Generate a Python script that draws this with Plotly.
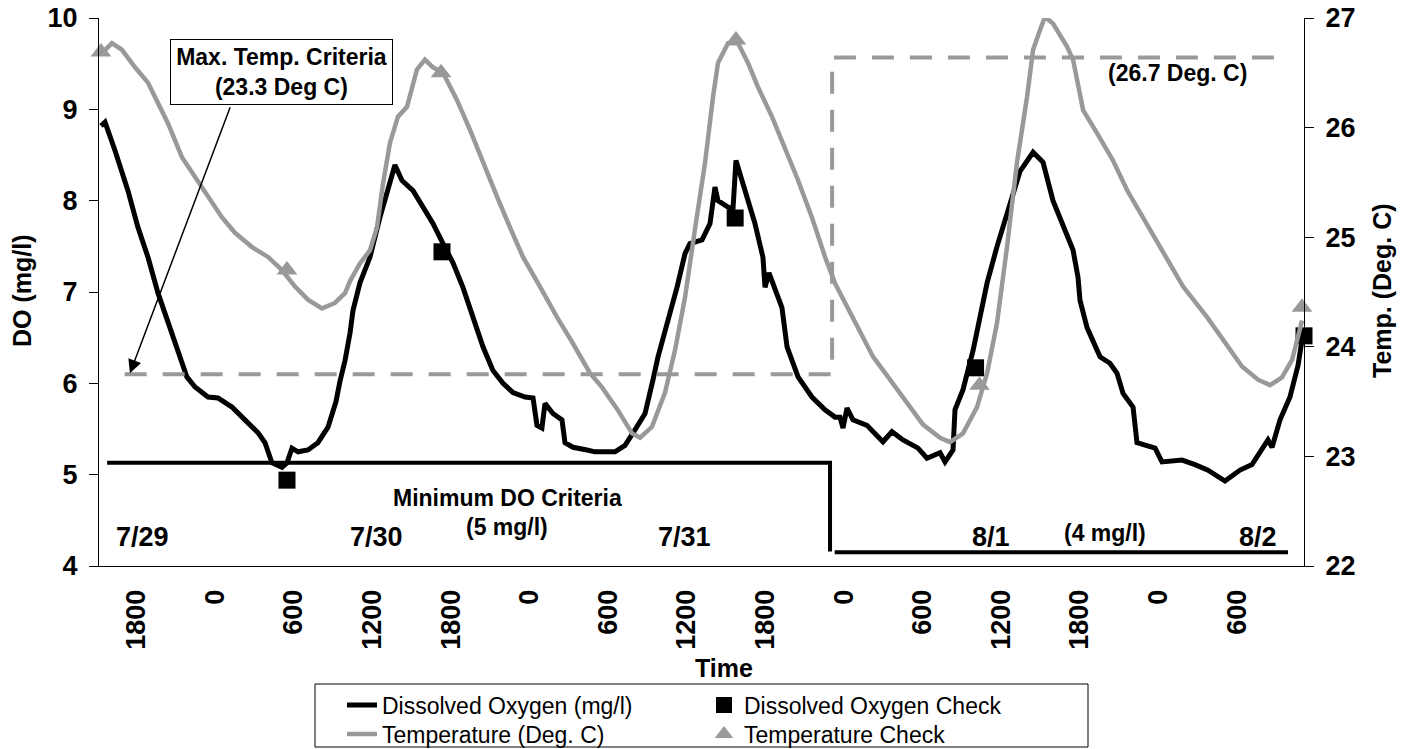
import plotly.graph_objects as go

# ---------------- data (hours from 7/30 00:00) ----------------
do_hours = [-8.71, -8.40, -7.64, -6.65, -5.89, -5.12, -4.36, -3.60, -2.83, -2.15, -1.53, -0.54,
            0.22, 1.29, 2.28, 3.27, 3.81, 4.34, 5.11, 5.49, 5.87, 6.33, 7.09, 7.85, 8.62, 9.23,
            9.53, 9.92, 10.30, 10.53, 11.06, 11.82, 12.59, 13.35, 13.73, 14.27, 15.11, 15.87,
            16.63, 17.40, 18.16, 18.92, 19.69, 20.45, 21.21, 21.98, 22.74, 23.66, 24.27, 24.57,
            24.95, 25.18, 25.79, 26.48, 26.71, 27.32, 28.39, 29.00, 30.53, 31.29, 32.05, 32.82,
            33.43, 33.81, 34.57, 35.26, 35.87, 36.25, 37.17, 37.78, 38.16, 38.39, 39.15, 39.53,
            39.76, 40.45, 41.21, 41.82, 41.98, 42.28, 43.27, 43.66, 44.50, 45.56, 46.56, 47.32,
            47.70, 47.93, 48.24, 48.69, 49.76, 50.98, 51.67, 52.51, 53.66, 54.34, 55.34, 55.72,
            56.33, 56.48, 57.09, 57.86, 58.93, 59.69, 60.45, 61.44, 62.44, 63.20, 63.96, 64.73,
            65.49, 65.87, 66.02, 66.56, 67.02, 67.55, 68.31, 68.85, 69.31, 70.07, 70.37, 71.75,
            72.28, 73.81, 74.80, 75.79, 77.09, 78.24, 79.15, 79.89, 80.37, 80.68, 81.29, 82.05,
            82.67, 83.05]
do_values = [8.82, 8.86, 8.55, 8.11, 7.71, 7.38, 6.99, 6.66, 6.33, 6.07, 5.96, 5.85,
             5.84, 5.74, 5.60, 5.46, 5.35, 5.13, 5.08, 5.13, 5.29, 5.25, 5.27, 5.35, 5.52, 5.80,
             6.02, 6.25, 6.55, 6.80, 7.10, 7.38, 7.82, 8.22, 8.39, 8.22, 8.11, 7.93,
             7.75, 7.53, 7.32, 7.05, 6.72, 6.40, 6.14, 6.00, 5.90, 5.85, 5.84, 5.54,
             5.51, 5.78, 5.67, 5.60, 5.35, 5.30, 5.27, 5.25, 5.25, 5.32, 5.49, 5.67,
             6.04, 6.29, 6.69, 7.05, 7.42, 7.53, 7.57, 7.75, 8.15, 8.00, 7.93, 7.90,
             8.44, 8.11, 7.75, 7.38, 7.05, 7.21, 6.83, 6.40, 6.07, 5.85, 5.71, 5.63,
             5.63, 5.51, 5.73, 5.60, 5.54, 5.36, 5.47, 5.38, 5.29, 5.18, 5.24, 5.14,
             5.27, 5.71, 5.93, 6.36, 7.10, 7.50, 7.86, 8.32, 8.53, 8.42, 8.00, 7.71,
             7.46, 7.16, 6.91, 6.61, 6.47, 6.29, 6.22, 6.11, 5.89, 5.74, 5.35, 5.29,
             5.14, 5.16, 5.11, 5.05, 4.93, 5.05, 5.11, 5.27, 5.38, 5.30, 5.60, 5.85,
             6.20, 6.55]

temp_hours = [-8.63, -7.87, -7.11, -6.11, -5.12, -4.36, -3.60, -2.53, -1.53, -0.54, 0.53, 1.52,
              2.82, 4.04, 5.11, 6.10, 7.09, 8.16, 9.15, 9.92, 10.30, 11.06, 11.82, 12.36, 12.82,
              13.35, 13.96, 14.65, 15.41, 16.02, 16.63, 17.40, 18.47, 19.46, 20.45, 21.52, 22.51,
              23.50, 24.80, 26.10, 27.32, 28.62, 29.54, 30.76, 31.83, 32.44, 33.35, 34.34, 35.11,
              35.87, 36.63, 37.40, 38.01, 38.39, 39.15, 39.92, 40.68, 41.44, 42.51, 43.50, 44.50,
              45.56, 46.56, 47.32, 47.70, 49.00, 50.22, 51.52, 52.82, 54.04, 55.34, 56.10, 57.09,
              58.16, 58.93, 59.69, 60.45, 61.21, 61.98, 62.44, 62.97, 63.35, 63.96, 65.03, 65.49,
              66.26, 67.32, 68.54, 69.61, 70.83, 72.36, 73.89, 75.72, 77.09, 78.39, 79.61, 80.53,
              81.44, 82.21, 82.97]
temp_values = [26.68, 26.77, 26.71, 26.55, 26.41, 26.22, 26.04, 25.73, 25.55, 25.37, 25.18, 25.04,
               24.91, 24.82, 24.70, 24.55, 24.43, 24.35, 24.40, 24.49, 24.60, 24.76, 24.88, 25.09, 25.49,
               25.86, 26.10, 26.19, 26.53, 26.62, 26.55, 26.50, 26.25, 25.98, 25.68, 25.37, 25.09,
               24.82, 24.55, 24.27, 24.03, 23.76, 23.63, 23.42, 23.21, 23.17, 23.27, 23.58, 23.97,
               24.45, 25.07, 25.68, 26.28, 26.59, 26.77, 26.77, 26.59, 26.37, 26.10, 25.82, 25.52,
               25.18, 24.82, 24.58, 24.49, 24.18, 23.91, 23.70, 23.49, 23.29, 23.17, 23.13, 23.21,
               23.45, 23.76, 24.22, 24.91, 25.68, 26.28, 26.71, 26.89, 27.01, 26.95, 26.74, 26.62,
               26.16, 25.95, 25.70, 25.43, 25.18, 24.88, 24.55, 24.27, 24.03, 23.82, 23.70, 23.65,
               23.72, 23.88, 24.24]

do_check_hours = [5.49, 17.32, 39.70, 58.05, 83.12]
do_check_values = [4.94, 7.44, 7.81, 6.17, 6.52]
temp_check_hours = [-8.71, 5.49, 17.25, 39.76, 58.35, 82.97]
temp_check_values = [26.69, 24.70, 26.50, 26.80, 23.65, 24.36]

do_crit_hours_1 = [-8.24, 46.94, 46.94]
do_crit_values_1 = [5.13, 5.13, 4.16]
do_crit_hours_2 = [47.30, 81.90]
do_crit_values_2 = [4.15, 4.15]
temp_crit_hours = [-6.90, 47.10, 47.10, 81.82]
temp_crit_values = [23.75, 23.75, 26.64, 26.64]

tick_hours = [-6, 0, 6, 12, 18, 24, 30, 36, 42, 48, 54, 60, 66, 72, 78]
tick_labels = ["1800", "0", "600", "1200", "1800", "0", "600", "1200", "1800",
               "0", "600", "1200", "1800", "0", "600"]
x_range = [-8.86, 83.12]
do_range = [4, 10]
temp_range = [22, 27]

# ---------------- layout helpers ----------------
W, H = 1406, 749
L, R, T, B = 99, 102, 18, 183
PW = W - L - R
PH = H - T - B
BOTTOM = H - B


def pxx(xp):
    return (xp - L) / PW


def pxy(yp):
    return (BOTTOM - yp) / PH


def cx(xp):
    return xp / W


def cy(yp):
    return 1 - yp / H


FONT = "Arial, Liberation Sans, sans-serif"
GRAY = "#999999"

fig = go.Figure()

fig.add_trace(go.Scatter(x=do_hours, y=do_values, mode="lines",
                         line=dict(color="black", width=5),
                         name="Dissolved Oxygen (mg/l)", legend="legend"))
fig.add_trace(go.Scatter(x=do_crit_hours_1, y=do_crit_values_1, mode="lines",
                         line=dict(color="black", width=4), showlegend=False, hoverinfo="skip"))
fig.add_trace(go.Scatter(x=do_crit_hours_2, y=do_crit_values_2, mode="lines",
                         line=dict(color="black", width=4), showlegend=False, hoverinfo="skip"))
fig.add_trace(go.Scatter(x=do_check_hours, y=do_check_values, mode="markers",
                         marker=dict(symbol="square", size=17, color="black"),
                         cliponaxis=False,
                         name="Dissolved Oxygen Check", legend="legend2"))
fig.add_trace(go.Scatter(x=temp_hours, y=temp_values, mode="lines", yaxis="y2",
                         line=dict(color=GRAY, width=4.5),
                         name="Temperature (Deg. C)", legend="legend3"))
fig.add_trace(go.Scatter(x=temp_crit_hours, y=temp_crit_values, mode="lines", yaxis="y2",
                         line=dict(color=GRAY, width=4, dash="22px,16px"),
                         showlegend=False, hoverinfo="skip"))
fig.add_trace(go.Scatter(x=temp_check_hours, y=temp_check_values, mode="markers", yaxis="y2",
                         marker=dict(symbol="triangle-up", size=18, color=GRAY),
                         cliponaxis=False,
                         name="Temperature Check", legend="legend4"))

tickfont = dict(family=FONT, size=27, color="black", weight="bold")
legfont = dict(family=FONT, size=23, color="black")


def leg(xp, yp):
    return dict(xref="container", yref="container", x=cx(xp), y=cy(yp),
                xanchor="left", yanchor="middle", orientation="v", font=legfont,
                bgcolor="rgba(0,0,0,0)", borderwidth=0, tracegroupgap=0)


fig.update_layout(
    width=W, height=H,
    margin=dict(l=L, r=R, t=T, b=B, autoexpand=False),
    paper_bgcolor="white", plot_bgcolor="white",
    showlegend=True,
    xaxis=dict(range=x_range, tickmode="array", tickvals=tick_hours, ticktext=tick_labels,
               tickangle=-90, tickfont=tickfont, showline=True, linecolor="black", linewidth=1,
               ticks="", showgrid=False, zeroline=False, ticklabelstandoff=12,
               automargin=False),
    yaxis=dict(range=do_range, dtick=1, tickfont=tickfont, showline=True, linecolor="black",
               linewidth=1, ticks="outside", ticklen=9, tickcolor="black", showgrid=False,
               zeroline=False, ticklabelstandoff=6, automargin=False),
    yaxis2=dict(range=temp_range, dtick=1, overlaying="y", side="right", anchor="x",
                tickfont=tickfont, showline=True, linecolor="black", linewidth=1,
                ticks="outside", ticklen=9, tickcolor="black", showgrid=False, zeroline=False,
                ticklabelstandoff=6, automargin=False),
    legend=leg(342, 705),
    legend2=leg(704, 705),
    legend3=leg(342, 734),
    legend4=leg(704, 734),
)

# legend frame
fig.add_shape(type="rect", xref="paper", yref="paper",
              x0=pxx(315), x1=pxx(1088), y0=pxy(684), y1=pxy(747),
              line=dict(color="black", width=1), fillcolor="rgba(0,0,0,0)")

bold = lambda s: dict(family=FONT, size=s, color="black", weight="bold")


def note(text, xp, yp, size, angle=0):
    fig.add_annotation(text=text, xref="paper", yref="paper", x=pxx(xp), y=pxy(yp),
                       xanchor="center", yanchor="middle", showarrow=False,
                       font=bold(size), textangle=angle)


note("DO (mg/l)", 22, 291, 25, -90)
note("Temp. (Deg. C)", 1382, 291, 25, -90)
note("Time", 724, 668, 25)
note("7/29", 142, 537, 27)
note("7/30", 376, 537, 27)
note("7/31", 684, 537, 27)
note("8/1", 991, 537, 27)
note("8/2", 1258, 537, 27)
note("(4 mg/l)", 1105, 533, 23)
note("(26.7 Deg. C)", 1177, 73, 23)
note("Minimum DO Criteria", 507, 498, 23)
note("(5 mg/l)", 507, 527, 23)

# arrow from the label box to the temperature criteria line
fig.add_annotation(text=" ", xref="x", yref="y", x=-6.50, y=6.11,
                   axref="pixel", ayref="pixel", ax=101, ay=-268,
                   showarrow=True, arrowhead=2, arrowsize=1.8, arrowwidth=1.5,
                   arrowcolor="black", font=dict(size=1))
fig.add_annotation(text="Max. Temp. Criteria<br>(23.3 Deg C)", xref="paper", yref="paper",
                   x=pxx(281.5), y=pxy(72.5), xanchor="center", yanchor="middle",
                   showarrow=False, font=bold(23), bgcolor="white", bordercolor="black",
                   borderwidth=1, borderpad=3, width=215, height=58)

fig.write_html("out.html", config={"displayModeBar": False},
               post_script="document.body.style.margin='0';document.body.style.overflow='hidden';")
